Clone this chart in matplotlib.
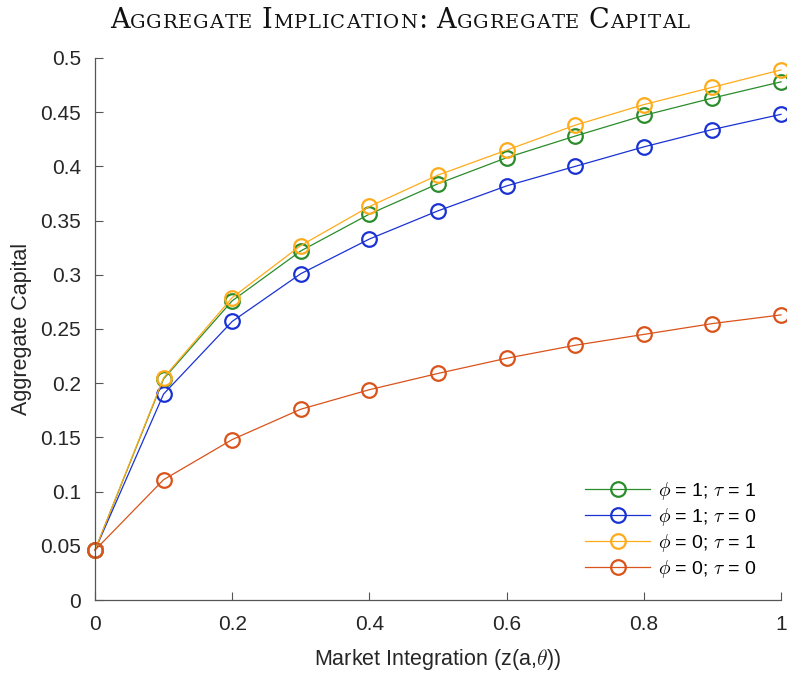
import matplotlib.pyplot as plt
from matplotlib.ticker import FormatStrFormatter

# market integration grid
z = [0.0, 0.1, 0.2, 0.3, 0.4, 0.5, 0.6, 0.7, 0.8, 0.9, 1.0]

# aggregate capital for each (phi, tau) case
k_phi1_tau1 = [0.046, 0.204, 0.276, 0.322, 0.356, 0.384, 0.408, 0.428, 0.447, 0.463, 0.478]
k_phi1_tau0 = [0.046, 0.190, 0.257, 0.301, 0.333, 0.359, 0.382, 0.400, 0.418, 0.434, 0.448]
k_phi0_tau1 = [0.046, 0.205, 0.279, 0.327, 0.363, 0.392, 0.415, 0.438, 0.457, 0.473, 0.489]
k_phi0_tau0 = [0.046, 0.111, 0.148, 0.176, 0.194, 0.209, 0.223, 0.235, 0.245, 0.255, 0.263]

labels = [r"$\phi$ = 1; $\tau$ = 1", r"$\phi$ = 1; $\tau$ = 0",
          r"$\phi$ = 0; $\tau$ = 1", r"$\phi$ = 0; $\tau$ = 0"]
colors = ["#2a8c2a", "#1a32d4", "#ffab1a", "#d9531a"]

plt.rcParams["font.family"] = ["Liberation Sans", "DejaVu Sans"]
plt.rcParams["mathtext.fontset"] = "cm"


def small_caps_title(fig, text, xc, y, size, ratio=0.72, family="DejaVu Serif", track=0.8):
    """Draw text centred at xc (pixels) using fake small capitals."""
    renderer = fig.canvas.get_renderer()
    probe = fig.text(0, 0, "A A", fontsize=size, family=family)
    w_sp = probe.get_window_extent(renderer).width
    probe.set_text("AA")
    w_sp -= probe.get_window_extent(renderer).width
    probe.remove()

    pieces = []
    total = 0
    for ch in text:
        if ch == " ":
            pieces.append((None, w_sp))
            total += w_sp
            continue
        fs = size if (ch.isupper() or not ch.isalpha()) else size * ratio
        t = fig.text(0, y, ch.upper(), fontsize=fs, family=family, va="baseline",
                     ha="left", color="#111111")
        w = t.get_window_extent(renderer).width + track
        pieces.append((t, w))
        total += w
    x = xc - total / 2
    for t, w in pieces:
        if t is not None:
            t.set_x(x / fig.bbox.width)
        x += w


fig = plt.figure(figsize=(7.87, 6.75), dpi=100)
ax = fig.add_axes([0.1207, 0.1111, 0.8717, 0.803])

for k, c, lab in zip([k_phi1_tau1, k_phi1_tau0, k_phi0_tau1, k_phi0_tau0], colors, labels):
    ax.plot(z, k, color=c, linewidth=0.9, marker="o", markersize=10.5,
            markerfacecolor="none", markeredgewidth=1.6, label=lab, clip_on=False)

ax.set_xlim(0, 1)
ax.set_ylim(0, 0.5)
ax.set_xticks([0, 0.2, 0.4, 0.6, 0.8, 1.0])
ax.set_yticks([i * 0.05 for i in range(11)])
ax.xaxis.set_major_formatter(FormatStrFormatter("%g"))
ax.yaxis.set_major_formatter(FormatStrFormatter("%g"))
ax.tick_params(direction="in", length=6, width=0.8, color="#555555",
               labelsize=15, labelcolor="#262626")
ax.tick_params(axis="x", pad=11)
ax.tick_params(axis="y", pad=10)

for side in ["top", "right"]:
    ax.spines[side].set_visible(False)
for side in ["left", "bottom"]:
    ax.spines[side].set_color("#555555")
    ax.spines[side].set_linewidth(0.9)

ax.set_xlabel(r"Market Integration (z(a,$\theta$))", fontsize=15.5, color="#262626", labelpad=9)
ax.set_ylabel("Aggregate Capital", fontsize=15.5, color="#262626", labelpad=6)

ax.legend(loc="lower right", bbox_to_anchor=(0.99, 0.005), frameon=False, fontsize=14,
          handlelength=3.3, handletextpad=0.45, labelspacing=0.2)

small_caps_title(fig, "Aggregate Implication: Aggregate Capital", 400, 1 - 28 / 675, 19.5)

fig.savefig("out.png", dpi=100)
